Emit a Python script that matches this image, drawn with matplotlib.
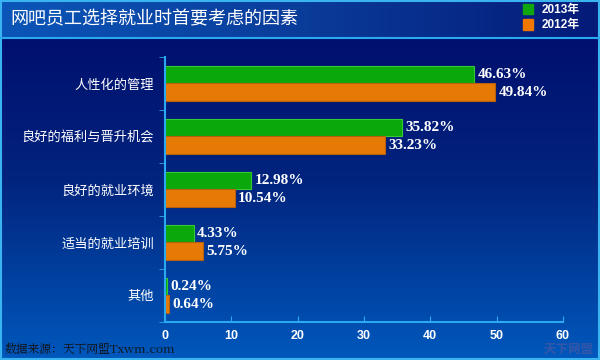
import numpy as np
import matplotlib.pyplot as plt
from matplotlib.patches import Rectangle
from matplotlib.colors import LinearSegmentedColormap

plt.rcParams['font.family'] = ['Noto Sans CJK SC', 'DejaVu Sans']

categories = ['人性化的管理', '良好的福利与晋升机会', '良好的就业环境', '适当的就业培训', '其他']
v2013 = [46.63, 35.82, 12.98, 4.33, 0.24]
v2012 = [49.84, 33.23, 10.54, 5.75, 0.64]
series_names = ['2013年', '2012年']
xticks = [0, 10, 20, 30, 40, 50, 60]

fig = plt.figure(figsize=(6, 3.6), dpi=100)

# 背景渐变
bg = fig.add_axes([0, 0, 1, 1])
grad = np.linspace(0, 1, 256).reshape(-1, 1)
cmap_bg = LinearSegmentedColormap.from_list('bg', ['#0058bc', '#02247e', '#000a6a'])
bg.imshow(grad, aspect='auto', cmap=cmap_bg, extent=[0, 1, 0, 1], origin='lower')
# 标题栏
hgrad = np.linspace(0, 1, 256).reshape(1, -1)
cmap_t = LinearSegmentedColormap.from_list('tt', ['#0a56b8', '#0a3c9a', '#041a78'])
bg.imshow(hgrad, aspect='auto', cmap=cmap_t, extent=[0, 1, 0.895, 1])
bg.plot([0, 1], [0.895, 0.895], color='#2aa8f0', lw=1.5)
bg.add_patch(Rectangle((0.002, 0.003), 0.996, 0.994, fill=False, ec='#3ab4f0', lw=1.5))
bg.set_xlim(0, 1)
bg.set_ylim(0, 1)
bg.axis('off')

bg.text(0.018, 0.945, '网吧员工选择就业时首要考虑的因素', color='white', fontsize=13,
        va='center', ha='left')
bg.add_patch(Rectangle((0.872, 0.960), 0.017, 0.028, color='#0ea80e'))
bg.add_patch(Rectangle((0.872, 0.918), 0.017, 0.028, color='#f07800'))
bg.text(0.903, 0.972, series_names[0], color='white', fontsize=8.5, fontweight='bold', va='center',
        family=['Liberation Sans', 'Noto Sans CJK SC'])
bg.text(0.903, 0.930, series_names[1], color='white', fontsize=8.5, fontweight='bold', va='center',
        family=['Liberation Sans', 'Noto Sans CJK SC'])
bg.text(0.008, 0.012, '数据来源：天下网盟Txwm.com', color='#111111', fontsize=8.5,
        family=['Noto Serif CJK SC', 'Liberation Serif', 'Noto Sans CJK SC'], va='bottom')
bg.text(0.99, 0.012, '天下网盟', color='#6a5a9a', alpha=0.5, fontsize=9, fontweight='bold',
        ha='right', va='bottom')

ax = fig.add_axes([0.275, 0.106, 0.663, 0.736])
ax.set_facecolor('none')
y = np.arange(len(categories))
h = 0.33
g = ax.barh(y - h / 2, v2013, height=h, color='#0aa80a', edgecolor='#36c836', lw=0.8)
o = ax.barh(y + h / 2, v2012, height=h, color='#e67a04', edgecolor='#b86010', lw=0.8)
for yy, v in zip(y, v2013):
    ax.text(v + 0.5, yy - h / 2, f'{v:.2f}%', color='white', fontsize=11, fontweight='bold',
            va='center', family='Liberation Serif')
for yy, v in zip(y, v2012):
    ax.text(v + 0.5, yy + h / 2, f'{v:.2f}%', color='white', fontsize=11, fontweight='bold',
            va='center', family='Liberation Serif')

ax.set_xlim(0, 60)
ax.set_ylim(len(categories) - 0.5, -0.5)
ax.set_xticks(xticks)
ax.set_xticklabels([str(t) for t in xticks], color='white', fontsize=9, fontweight='bold',
                   family='Liberation Sans')
ax.set_yticks(y)
ax.set_yticklabels(categories, color='white', fontsize=9.5)
ax.set_yticks(np.arange(len(categories) + 1) - 0.5, minor=True)
ax.tick_params(axis='y', which='major', length=0, pad=8)
ax.tick_params(axis='y', which='minor', length=4, color='#2aa8f0', direction='out')
ax.tick_params(axis='x', length=4, color='#2aa8f0', direction='in', pad=6)
for s in ['top', 'right']:
    ax.spines[s].set_visible(False)
for s in ['left', 'bottom']:
    ax.spines[s].set_color('#2aa8f0')
    ax.spines[s].set_linewidth(1.5)

fig.savefig('out.png', dpi=100)
